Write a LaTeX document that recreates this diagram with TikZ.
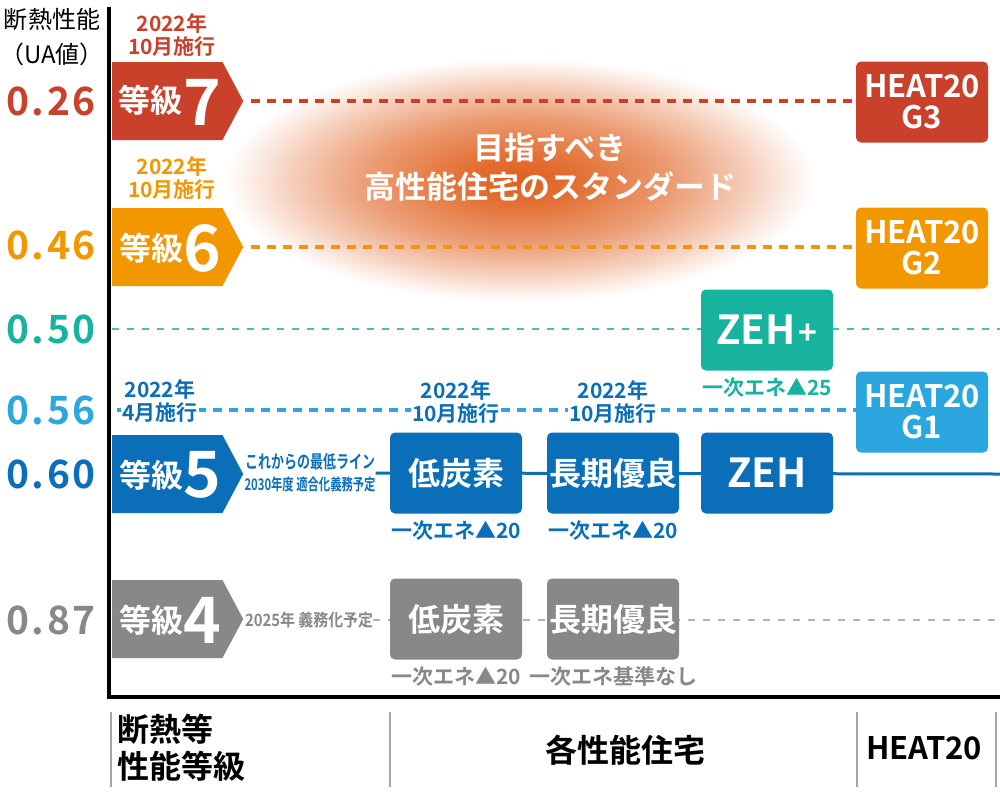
\documentclass[tikz,border=0pt]{standalone}
\usepackage{fontspec}
\usepackage{graphicx}
\setmainfont{Noto Sans CJK JP}[BoldFont={Noto Sans CJK JP Bold}]
\usepackage{tikz}
\usetikzlibrary{shapes.symbols,positioning,backgrounds}
\definecolor{g7red}{HTML}{C9412B}
\definecolor{g6orange}{HTML}{F29700}
\definecolor{zehteal}{HTML}{17B39F}
\definecolor{g1blue}{HTML}{2BA6DF}
\definecolor{g5blue}{HTML}{0A6EB9}
\definecolor{g4gray}{HTML}{888888}
\definecolor{glowcore}{HTML}{E0601E}
\pgfdeclareradialshading{glow}{\pgfpoint{0bp}{0bp}}{color(0bp)=(glowcore); color(5bp)=(glowcore!90!white); color(13bp)=(glowcore!62!white); color(19bp)=(glowcore!32!white); color(23bp)=(glowcore!10!white); color(25bp)=(white); color(50bp)=(white)}
\newcommand{\fs}[1]{\fontsize{#1}{#1}\selectfont}
\newcommand{\narrow}[2]{\resizebox{#1}{\height}{#2}}
\tikzset{
  gradebox/.style={signal, signal to=east, signal pointer angle=124, minimum height=78pt, minimum width=131pt, inner sep=0pt, anchor=west},
  gradeword/.style={text=white, font=\bfseries\fs{32}, inner sep=0pt},
  gradenum/.style={text=white, font=\bfseries\fs{64}, inner sep=0pt},
  housebox/.style={rectangle, rounded corners=5pt, minimum width=132pt, minimum height=81pt, inner sep=0pt, align=center, text=white, font=\bfseries\fs{32}},
  heatbox/.style={housebox, font=\bfseries\fontsize{31}{31}\selectfont},
  valuetext/.style={font=\bfseries\fs{39}\addfontfeature{LetterSpace=6}, inner sep=0pt},
  datetext/.style={align=center, font=\bfseries\fontsize{21}{23}\selectfont, inner sep=1pt, fill=white},
  energytext/.style={font=\bfseries\fs{21}, inner sep=0pt},
  notetext/.style={align=center, inner sep=0pt, font=\fontsize{16}{22}\selectfont},
  thickdash/.style={line width=3.5pt, dash pattern=on 9pt off 7pt},
  thindash/.style={line width=1.3pt, dash pattern=on 7pt off 8pt},
  axisline/.style={line width=4pt},
  sepline/.style={line width=1.2pt, draw=black!35},
}
\begin{document}
\begin{tikzpicture}[x=1pt, y=-1pt]
  \useasboundingbox (0,0) rectangle (1000,796);

  % Axis and header
  \coordinate (axtop) at (109,7);
  \coordinate (axcorner) at (109,697);
  \coordinate (axright) at (1000,697);
  \draw[axisline] (axtop) -- (axcorner) -- (axright);
  \node[align=center, font=\fontsize{24}{35}\selectfont] (uahead) at (52,37) {断熱性能\\（UA値）};

  % UA values
  \node[valuetext, text=g7red] (v026) at (51,101) {0.26};
  \node[valuetext, text=g6orange] (v046) at (51,245) {0.46};
  \node[valuetext, text=zehteal] (v050) at (51,329) {0.50};
  \node[valuetext, text=g1blue] (v056) at (51,410) {0.56};
  \node[valuetext, text=g5blue] (v060) at (51,474) {0.60};
  \node[valuetext, text=g4gray] (v087) at (51,620) {0.87};

  % Grade 7
  \node[gradebox, fill=g7red] (g7) at (112,101) {};
  \node[gradeword] (g7word) at (150,100) {等級};
  \node[gradenum] (g7num) at (202,102) {7};
  \node[datetext, text=g7red] (g7date) at (172,35) {2022年\\10月施行};

  % Grade 6
  \node[gradebox, fill=g6orange] (g6) at (112,247) {};
  \node[gradeword] (g6word) at (151,248) {等級};
  \node[gradenum] (g6num) at (202,248) {6};
  \node[datetext, text=g6orange] (g6date) at (172,178) {2022年\\10月施行};

  % Grade 5
  \node[gradebox, fill=g5blue] (g5) at (112,474) {};
  \node[gradeword] (g5word) at (151,475) {等級};
  \node[gradenum] (g5num) at (202,475) {5};
  \node[datetext, text=g5blue] (g5date) at (160,401) {2022年\\4月施行};
  \node[notetext, text=g5blue] (note5) at (310,473) {\narrow{130pt}{\bfseries\fs{18}これからの最低ライン}\\\narrow{131pt}{\bfseries\fs{16}2030年度 適合化義務予定}};

  % Grade 4
  \node[gradebox, fill=g4gray] (g4) at (112,619) {};
  \node[gradeword] (g4word) at (151,620) {等級};
  \node[gradenum] (g4num) at (202,620) {4};
  \node[notetext, text=g4gray] (note4) at (309,620) {\narrow{128pt}{\bfseries\fs{17}2025年 義務化予定}};

  % Houses at grade 5
  \node[housebox, fill=g5blue] (lc5) at (456,473) {低炭素};
  \node[housebox, fill=g5blue] (lt5) at (613,473) {長期優良};
  \node[housebox, fill=g5blue, font=\bfseries\fs{40}] (zeh) at (767,473) {ZEH};
  \node[energytext, text=g5blue, below=7pt of lc5] (lc5e) {一次エネ▲20};
  \node[energytext, text=g5blue, below=7pt of lt5] (lt5e) {一次エネ▲20};
  \node[datetext, text=g5blue] (lc5date) at (456,402) {2022年\\10月施行};
  \node[datetext, text=g5blue] (lt5date) at (613,402) {2022年\\10月施行};

  % ZEH+
  \node[housebox, fill=zehteal, font=\bfseries\fs{40}] (zehp) at (767,330) {ZEH\hspace{3pt}{\fs{32}+}};
  \node[energytext, text=zehteal, below=7pt of zehp] (zehpe) {一次エネ▲25};

  % Houses at grade 4
  \node[housebox, fill=g4gray] (lc4) at (456,619) {低炭素};
  \node[housebox, fill=g4gray] (lt4) at (613,619) {長期優良};
  \node[energytext, text=g4gray, below=7pt of lc4] (lc4e) {一次エネ▲20};
  \node[energytext, text=g4gray, below=7pt of lt4] (lt4e) {一次エネ基準なし};

  % HEAT20
  \node[heatbox, fill=g7red] (h3) at (922,102) {HEAT20\\G3};
  \node[heatbox, fill=g6orange] (h2) at (922,248) {HEAT20\\G2};
  \node[heatbox, fill=g1blue] (h1) at (922,412) {HEAT20\\G1};

  % Goal
  \node[align=center, text=white, font=\bfseries\fontsize{31}{39}\selectfont] (goal) at (550,167) {目指すべき\\高性能住宅のスタンダード};

  % Level lines
  \coordinate (l050a) at (112,329);
  \coordinate (l050b) at (1000,329);
  \coordinate (l056a) at (117,410);
  \coordinate (l060b) at (1000,474);
  \coordinate (l087b) at (1000,620);
  \begin{scope}[on background layer]
    \shade[shading=glow] (520,180) ellipse [x radius=295pt, y radius=122pt];
    \draw[thickdash, g7red] ([xshift=8pt]g7.east) -- (h3.west |- g7.east);
    \draw[thickdash, g6orange] ([xshift=8pt]g6.east) -- (h2.west |- g6.east);
    \draw[thindash, zehteal!80] (l050a) -- (l050b);
    \draw[thickdash, g1blue] (l056a) -- (h1.west |- l056a);
    \draw[line width=3pt, g5blue] (note5.east) -- (l060b);
    \draw[thindash, black!30] (note4.east) -- (l087b);
  \end{scope}

  % Bottom labels
  \node[align=left, anchor=west, font=\bfseries\fontsize{32}{37}\selectfont] (axislbl) at (114,748) {断熱等\\性能等級};
  \node[font=\bfseries\fs{32}] (houselbl) at (625,750) {各性能住宅};
  \node[font=\bfseries\fs{31}] (heatlbl) at (924,748) {HEAT20};
  \foreach \sx in {111,390,857,996}
    \draw[sepline] (\sx,712) -- (\sx,787);
\end{tikzpicture}
\end{document}
